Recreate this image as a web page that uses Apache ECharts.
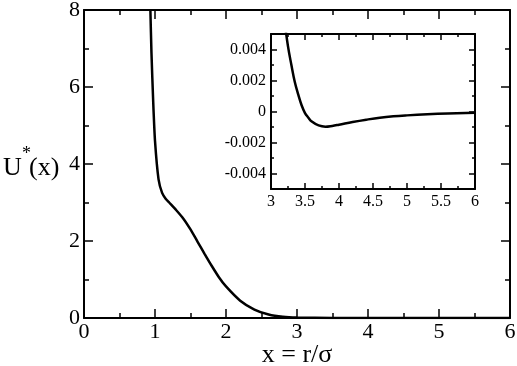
<!DOCTYPE html>
<html lang="en">
<head>
  <meta charset="UTF-8">
  <title>U*(x)</title>
  <script src='https://cdn.jsdelivr.net/npm/echarts@6/dist/echarts.min.js'></script>
  <style>
    html, body { margin: 0; padding: 0; background: #fff; }
    #chart { width: 517px; height: 366px; }
  </style>
</head>
<body>
<div id="chart"></div>
<script>
  // main curve
  const mainX = [0.935, 0.95, 0.975, 1.0, 1.05, 1.1, 1.15, 1.2, 1.3, 1.4, 1.5, 1.6, 1.7, 1.8, 1.9, 2.0, 2.2, 2.4, 2.6, 2.8, 3.0, 3.5, 4.0, 5.0, 6.0];
  const mainY = [8.0, 6.9, 5.6, 4.6, 3.6, 3.25, 3.1, 3.0, 2.8, 2.58, 2.3, 1.98, 1.66, 1.35, 1.06, 0.82, 0.45, 0.22, 0.09, 0.03, 0.01, 0.002, 0.0, 0.0, 0.0];
  // inset, zoom on the minimum
  const insetX = [3.2, 3.25, 3.3, 3.35, 3.4, 3.45, 3.5, 3.55, 3.6, 3.7, 3.8, 3.9, 4.0, 4.2, 4.4, 4.6, 4.8, 5.0, 5.3, 5.6, 6.0];
  const insetY = [0.0058, 0.0042, 0.003, 0.0019, 0.0011, 0.0004, -0.0001, -0.0004, -0.00065, -0.0009, -0.00098, -0.00093, -0.00085, -0.00068, -0.00053, -0.0004, -0.00031, -0.00025, -0.00018, -0.00013, -0.00008];
  const insetYTicks = [-0.004, -0.002, 0, 0.002, 0.004];

  const font = '"Liberation Serif", "Times New Roman", Times, serif';
  const black = '#000';

  function pairs(xs, ys) {
    return xs.map((x, k) => [x, ys[k]]);
  }

  function mkAxis(grid, pos, min, max, interval, opts) {
    const labels = opts.labels;
    return {
      type: 'value', gridIndex: grid, position: pos, min: min, max: max, interval: interval,
      axisLine: {show: opts.line !== false, onZero: false, lineStyle: {color: black, width: 2}},
      axisTick: {show: true, inside: true, length: opts.tick, lineStyle: {color: black, width: 1.5},
        customValues: opts.custom},
      minorTick: {show: !!opts.minor, splitNumber: opts.minor || 5, length: opts.minorLen,
        lineStyle: {color: black, width: 1.5}},
      splitLine: {show: false},
      axisLabel: {show: !!labels, color: black, fontFamily: font, fontSize: opts.fs,
        margin: opts.margin, customValues: opts.custom, formatter: opts.fmt},
      name: opts.name, nameLocation: 'middle', nameGap: opts.nameGap, nameMoveOverlap: false,
      nameTextStyle: {color: black, fontFamily: font, fontSize: 26}
    };
  }

  const chart = echarts.init(document.getElementById('chart'));
  chart.setOption({
    animation: false,
    backgroundColor: '#fff',
    grid: [
      {left: 84, top: 10, width: 426, height: 308, outerBoundsMode: 'none', containLabel: false},
      {left: 271, top: 34, width: 204, height: 155, outerBoundsMode: 'none', containLabel: false}
    ],
    xAxis: [
      mkAxis(0, 'bottom', 0, 6, 1, {labels: true, tick: 9, minor: 2, minorLen: 5, fs: 22, margin: 3,
        name: 'x = r/σ', nameGap: 24}),
      mkAxis(0, 'top', 0, 6, 1, {tick: 9, minor: 2, minorLen: 5}),
      mkAxis(1, 'bottom', 3, 6, 0.5, {labels: true, tick: 6, minor: 2, minorLen: 3, fs: 16, margin: 5}),
      mkAxis(1, 'top', 3, 6, 0.5, {tick: 6, minor: 2, minorLen: 3})
    ],
    yAxis: [
      mkAxis(0, 'left', 0, 8, 2, {labels: true, tick: 9, minor: 2, minorLen: 5, fs: 22, margin: 4}),
      mkAxis(0, 'right', 0, 8, 2, {tick: 9, minor: 2, minorLen: 5}),
      mkAxis(1, 'left', -0.005, 0.005, 0.001, {labels: true, tick: 6, fs: 16, margin: 5,
        custom: insetYTicks, fmt: v => String(Math.round(v * 1000) / 1000)}),
      mkAxis(1, 'right', -0.005, 0.005, 0.001, {tick: 6, custom: insetYTicks}),
      mkAxis(1, 'left', -0.005, 0.005, 0.001, {tick: 3, line: false}),
      mkAxis(1, 'right', -0.005, 0.005, 0.001, {tick: 3, line: false})
    ],
    graphic: [
      {type: 'text', left: 3, top: 155, style: {text: 'U', fontFamily: font, fontSize: 26, fill: black}},
      {type: 'text', left: 22, top: 145, style: {text: '*', fontFamily: font, fontSize: 18, fill: black}},
      {type: 'text', left: 29, top: 155, style: {text: '(x)', fontFamily: font, fontSize: 26, fill: black}}
    ],
    series: [
      {
        type: 'line', xAxisIndex: 0, yAxisIndex: 0, data: pairs(mainX, mainY),
        smooth: 0.2, showSymbol: false, clip: true,
        lineStyle: {color: black, width: 2.5}
      },
      {
        type: 'line', xAxisIndex: 2, yAxisIndex: 2, data: pairs(insetX, insetY),
        smooth: 0.4, showSymbol: false, clip: true,
        lineStyle: {color: black, width: 2.5}
      }
    ]
  });
</script>
</body>
</html>
